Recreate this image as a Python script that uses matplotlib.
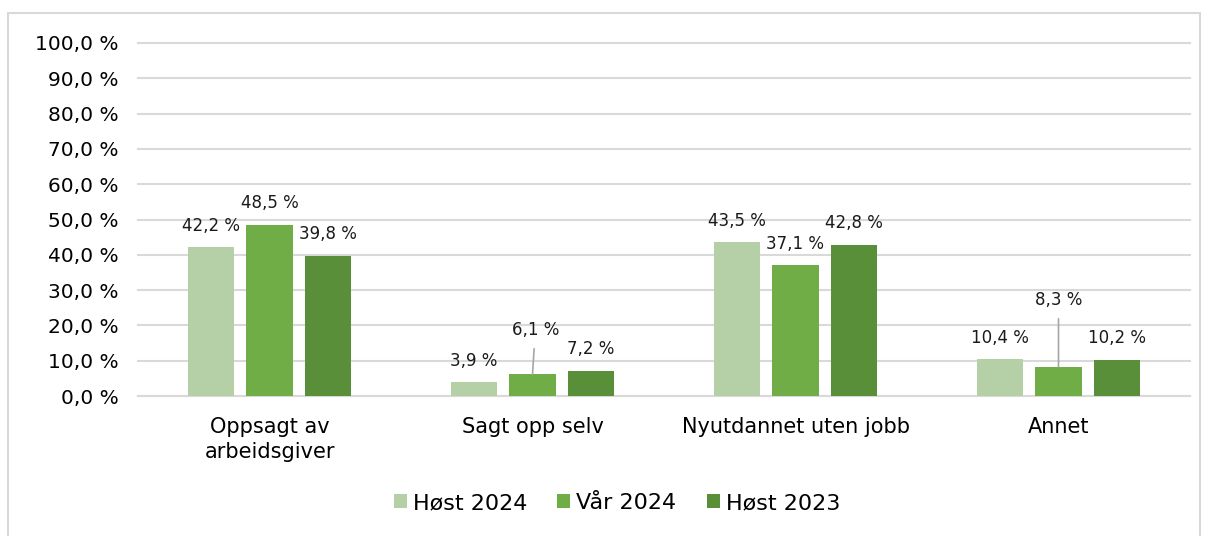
import matplotlib
matplotlib.use("Agg")
import matplotlib.pyplot as plt
from matplotlib.ticker import FuncFormatter, MultipleLocator
from matplotlib.patches import Rectangle
import numpy as np

categories = ["Oppsagt av\narbeidsgiver", "Sagt opp selv", "Nyutdannet uten jobb", "Annet"]
series_names = ["Høst 2024", "Vår 2024", "Høst 2023"]
host_2024 = [42.2, 3.9, 43.5, 10.4]
vaar_2024 = [48.5, 6.1, 37.1, 8.3]
host_2023 = [39.8, 7.2, 42.8, 10.2]
colors = ["#B5CFA7", "#70AD47", "#5A8F3A"]

def fmt(v):
    return f"{v:.1f}".replace(".", ",") + " %"

fig = plt.figure(figsize=(12.08, 5.36), dpi=100)
fig.patches.append(Rectangle((8/1208, -0.1), 1192/1208, 1 - 13/536 + 0.1,
                             transform=fig.transFigure, fill=False,
                             edgecolor="#D9D9D9", linewidth=1.5))
ax = fig.add_axes([138/1208, 1 - 396/536, 1052/1208, 353/536])

x = np.arange(len(categories))
width = 0.175
step = 0.222
all_series = [host_2024, vaar_2024, host_2023]
# special label placements (offset in points) for leader-line labels
special = {(1, 1): (2, 32), (3, 1): (0, 48)}
for i, (vals, name, c) in enumerate(zip(all_series, series_names, colors)):
    pos = x + (i - 1) * step
    ax.bar(pos, vals, width=width, color=c, label=name, zorder=3)
    for j, (p, v) in enumerate(zip(pos, vals)):
        if (j, i) in special:
            dx, dy = special[(j, i)]
            ax.annotate(fmt(v), xy=(p, v), xytext=(dx, dy), textcoords="offset points",
                        ha="center", va="center", fontsize=12, color="#1a1a1a",
                        arrowprops=dict(arrowstyle="-", color="#A6A6A6", lw=1.2,
                                        shrinkA=5, shrinkB=0))
        else:
            ax.annotate(fmt(v), xy=(p, v), xytext=(0, 15.5), textcoords="offset points",
                        ha="center", va="center", fontsize=12, color="#1a1a1a")

ax.set_xlim(-0.5, len(categories) - 0.5)
ax.set_ylim(0, 100)
ax.yaxis.set_major_locator(MultipleLocator(10))
ax.yaxis.set_major_formatter(FuncFormatter(lambda v, p: fmt(v)))
ax.set_xticks(x)
ax.set_xticklabels(categories, fontsize=15, linespacing=1.35)
ax.tick_params(axis="y", labelsize=14.5, length=0, pad=14)
ax.tick_params(axis="x", length=0, pad=15)
ax.grid(axis="y", color="#D9D9D9", linewidth=1.5, zorder=0)
for gl in ax.get_ygridlines():
    gl.set_clip_on(False)
for s in ["top", "right", "left"]:
    ax.spines[s].set_visible(False)
ax.spines["bottom"].set_color("#D9D9D9")
ax.spines["bottom"].set_linewidth(1.5)

ax.legend(loc="center", bbox_to_anchor=(617/1208, 1 - 503/536), bbox_transform=fig.transFigure,
          ncol=3, frameon=False, fontsize=16, handlelength=0.59, handleheight=0.59,
          handletextpad=0.27, columnspacing=1.35, borderpad=0)

fig.savefig("out.png", dpi=100)
